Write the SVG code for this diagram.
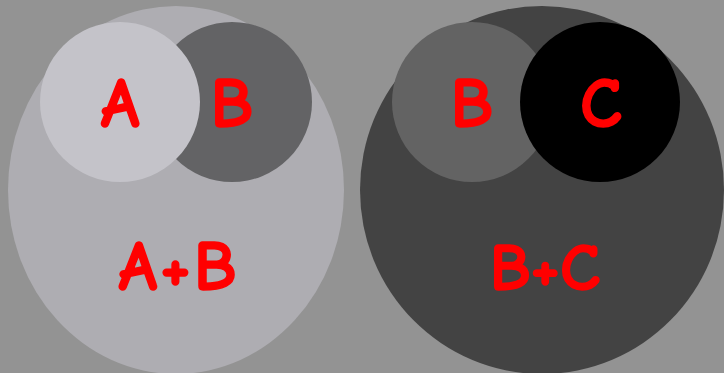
<svg xmlns="http://www.w3.org/2000/svg" width="724" height="373" viewBox="0 0 724 373">
<style>
text{font-family:"Comic Neue","Liberation Sans",Arial,sans-serif;font-weight:bold;font-size:70px;fill:#ff0000;stroke:#ff0000;stroke-width:1.5;stroke-linejoin:round;text-anchor:middle}
.w{letter-spacing:3px}
</style>
<rect width="724" height="373" fill="#939393"/>
<g id="AB">
<ellipse cx="176" cy="190" rx="168" ry="184" fill="#aeadb2"/>
<text class="w" x="179" y="290">A+B</text>
</g>
<g id="B1">
<circle cx="232" cy="102" r="80" fill="#636365"/>
<text x="232" y="127">B</text>
</g>
<g id="A">
<circle cx="120" cy="102" r="80" fill="#c4c3c9"/>
<text x="120" y="127">A</text>
</g>
<g id="BC">
<ellipse cx="542" cy="190" rx="182" ry="184" fill="#434343"/>
<text x="545" y="290" style="font-size:67px">B+C</text>
</g>
<g id="B2">
<circle cx="472" cy="102" r="80" fill="#636363"/>
<text x="472" y="127">B</text>
</g>
<g id="C">
<circle cx="600" cy="102" r="80" fill="#000000"/>
<text x="601" y="127">C</text>
</g>
<g id="connectors"/>
</svg>
